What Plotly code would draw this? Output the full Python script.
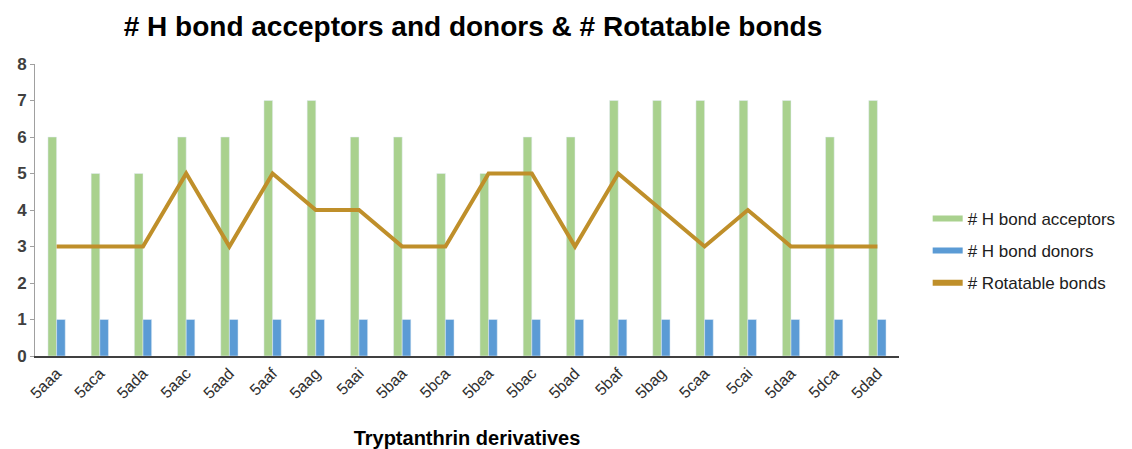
import plotly.graph_objects as go

categories = ["5aaa", "5aca", "5ada", "5aac", "5aad", "5aaf", "5aag", "5aai", "5baa", "5bca",
              "5bea", "5bac", "5bad", "5baf", "5bag", "5caa", "5cai", "5daa", "5dca", "5dad"]
acceptors = [6, 5, 5, 6, 6, 7, 7, 6, 6, 5, 5, 6, 6, 7, 7, 7, 7, 7, 6, 7]
donors = [1, 1, 1, 1, 1, 1, 1, 1, 1, 1, 1, 1, 1, 1, 1, 1, 1, 1, 1, 1]
rotatable = [3, 3, 3, 5, 3, 5, 4, 4, 3, 3, 5, 5, 3, 5, 4, 3, 4, 3, 3, 3]
y_ticks = [0, 1, 2, 3, 4, 5, 6, 7, 8]

GREEN = "#a9d18e"
BLUE = "#5b9bd5"
GOLD = "#bf8f2a"

fig = go.Figure()
fig.add_trace(go.Bar(x=categories, y=acceptors, name="# H bond acceptors",
                     marker_color=GREEN, showlegend=False, legendgroup="a"))
fig.add_trace(go.Bar(x=categories, y=donors, name="# H bond donors",
                     marker_color=BLUE, showlegend=False, legendgroup="d"))
fig.add_trace(go.Scatter(x=categories, y=rotatable, name="# Rotatable bonds", mode="lines",
                         line=dict(color=GOLD, width=4), showlegend=False, legendgroup="r"))
# legend entries (line-style swatches like the reference)
for nm, col, grp in [("# H bond acceptors", GREEN, "a"), ("# H bond donors", BLUE, "d"),
                     ("# Rotatable bonds", GOLD, "r")]:
    fig.add_trace(go.Scatter(x=[None], y=[None], mode="lines", name=nm,
                             line=dict(color=col, width=6), legendgroup=grp))

fig.update_layout(
    width=1132, height=449,
    margin=dict(l=35, r=232, t=64, b=93),
    paper_bgcolor="white", plot_bgcolor="white",
    barmode="group", bargap=0.6, bargroupgap=0,
    font=dict(family="Arial, Liberation Sans", color="#404040"),
    title=dict(text="<b># H bond acceptors and donors & # Rotatable bonds</b>",
               x=473 / 1132, xanchor="center", y=1 - 26 / 449, yanchor="middle",
               font=dict(size=28, color="black")),
    legend=dict(x=1.032, y=0.36, xanchor="left", yanchor="middle",
                font=dict(size=17, color="#202020"), tracegroupgap=7,
                bgcolor="rgba(0,0,0,0)"),
    xaxis=dict(showline=True, linecolor="#404040", linewidth=1.5, ticks="",
               tickangle=-45, tickfont=dict(size=16, color="#303030"), automargin=False,
               title=dict(text="<b>Tryptanthrin derivatives</b>",
                          font=dict(size=20, color="black"), standoff=30),
               showgrid=False),
    yaxis=dict(range=[0, 8], tickvals=y_ticks,
               ticktext=["<b>%d</b>" % v for v in y_ticks], automargin=False,
               showline=True, linecolor="#a0a0a0",
               linewidth=1, ticks="outside", ticklen=4, tickcolor="#a0a0a0",
               tickfont=dict(size=17, color="#404040"), showgrid=False, zeroline=False),
)

fig.write_html("out.html")
